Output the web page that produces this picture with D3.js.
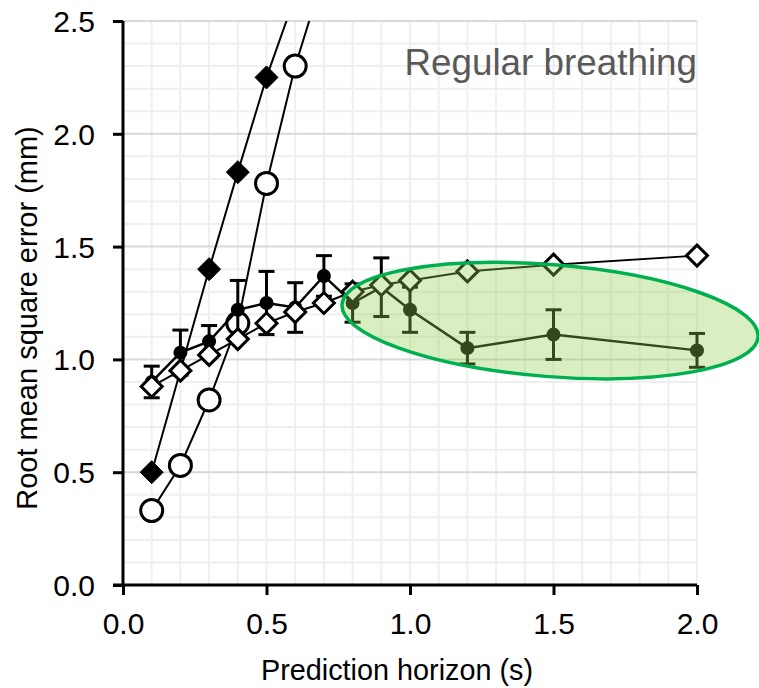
<!DOCTYPE html>
<html>
<head>
<meta charset="utf-8">
<script src="https://cdn.jsdelivr.net/npm/d3@7"></script>
<style>
  html, body { margin: 0; padding: 0; background: #fff; }
  svg { display: block; font-family: "Liberation Sans", Arial, sans-serif; }
</style>
</head>
<body>
<svg id="chart" width="759" height="688"></svg>
<script>
// Prediction horizons (s) for each method
const horizonA = [0.1, 0.2, 0.3, 0.4, 0.5, 0.6, 0.7, 0.8, 0.9, 1.0, 1.2, 1.5, 2.0];
// Mean RMSE with error bars (mm)
const rmseMean = [0.90, 1.03, 1.08, 1.22, 1.25, 1.23, 1.37, 1.25, 1.32, 1.22, 1.05, 1.11, 1.04];
const rmseErr  = [0.07, 0.10, 0.07, 0.13, 0.14, 0.11, 0.09, 0.085, 0.13, 0.10, 0.07, 0.11, 0.075];
// Open diamonds (mm)
const openDiamond = [0.88, 0.95, 1.02, 1.09, 1.16, 1.21, 1.25, 1.30, 1.33, 1.35, 1.39, 1.42, 1.46];
// Filled diamonds
const horizonB = [0.1, 0.3, 0.4, 0.5, 0.6];
const filledDiamond = [0.50, 1.40, 1.83, 2.25, 2.61];
// Open circles
const horizonC = [0.1, 0.2, 0.3, 0.4, 0.5, 0.6, 0.7];
const openCircle = [0.33, 0.53, 0.82, 1.16, 1.78, 2.30, 2.71];

const xTicks = [0.0, 0.5, 1.0, 1.5, 2.0];
const yTicks = [0.0, 0.5, 1.0, 1.5, 2.0, 2.5];
const panelTitle = "Regular breathing";
const xTitle = "Prediction horizon (s)";
const yTitle = "Root mean square error (mm)";

const svg = d3.select("#chart");
const pLeft = 123, pRight = 697, pTop = 21, pBottom = 585;

const x = d3.scaleLinear().domain([0, 2]).range([pLeft, pRight]);
const y = d3.scaleLinear().domain([0, 2.5]).range([pBottom, pTop]);

// grid every 0.1, darker every 0.5 for the horizontal lines
const gridX = d3.range(1, 21).map(i => i / 10);
const gridY = d3.range(1, 26).map(i => i / 10);
const grid = svg.append("g");
grid.selectAll("line.gx").data(gridX).join("line")
  .attr("x1", d => x(d)).attr("x2", d => x(d))
  .attr("y1", y(0)).attr("y2", y(2.5))
  .attr("stroke", "#efefef").attr("stroke-width", 2);
grid.selectAll("line.gy").data(gridY).join("line")
  .attr("x1", x(0)).attr("x2", x(2))
  .attr("y1", d => y(d)).attr("y2", d => y(d))
  .attr("stroke", d => Math.abs(d * 2 - Math.round(d * 2)) < 1e-6 ? "#d9d9d9" : "#efefef")
  .attr("stroke-width", 2);

// panel title
svg.append("text")
  .attr("x", pRight).attr("y", 75)
  .attr("text-anchor", "end")
  .attr("font-size", 36.8).attr("fill", "#595959")
  .text(panelTitle);

// series are cut off above the top of the value axis only
svg.append("clipPath").attr("id", "plotClip")
  .append("rect").attr("x", 0).attr("y", pTop).attr("width", 759).attr("height", 688 - pTop);

const plot = svg.append("g").attr("clip-path", "url(#plotClip)");
const line = d3.line().x(d => x(d[0])).y(d => y(d[1]));
const diamond = (cx, cy, r) => `M${cx},${cy - r}L${cx + r},${cy}L${cx},${cy + r}L${cx - r},${cy}Z`;

// open circles
const circData = horizonC.map((h, i) => [h, openCircle[i]]);
plot.append("path").attr("d", line(circData)).attr("fill", "none").attr("stroke", "#000").attr("stroke-width", 2);
plot.selectAll("circle.oc").data(circData).join("circle")
  .attr("cx", d => x(d[0])).attr("cy", d => y(d[1])).attr("r", 11)
  .attr("fill", "#fff").attr("stroke", "#000").attr("stroke-width", 3);

// filled diamonds
const fdData = horizonB.map((h, i) => [h, filledDiamond[i]]);
plot.append("path").attr("d", line(fdData)).attr("fill", "none").attr("stroke", "#000").attr("stroke-width", 2);
plot.selectAll("path.fd").data(fdData).join("path")
  .attr("d", d => diamond(x(d[0]), y(d[1]), 11.5))
  .attr("fill", "#000").attr("stroke", "#000").attr("stroke-width", 1);

// mean with error bars
const mData = horizonA.map((h, i) => [h, rmseMean[i], rmseErr[i]]);
plot.append("path").attr("d", line(mData)).attr("fill", "none").attr("stroke", "#000").attr("stroke-width", 2.5);
const eb = plot.append("g").attr("stroke", "#000").attr("stroke-width", 3);
eb.selectAll("line.v").data(mData).join("line")
  .attr("x1", d => x(d[0])).attr("x2", d => x(d[0]))
  .attr("y1", d => y(d[1] - d[2])).attr("y2", d => y(d[1] + d[2]));
eb.selectAll("line.t").data(mData).join("line")
  .attr("x1", d => x(d[0]) - 8).attr("x2", d => x(d[0]) + 8)
  .attr("y1", d => y(d[1] + d[2])).attr("y2", d => y(d[1] + d[2]));
eb.selectAll("line.b").data(mData).join("line")
  .attr("x1", d => x(d[0]) - 8).attr("x2", d => x(d[0]) + 8)
  .attr("y1", d => y(d[1] - d[2])).attr("y2", d => y(d[1] - d[2]));
plot.selectAll("circle.m").data(mData).join("circle")
  .attr("cx", d => x(d[0])).attr("cy", d => y(d[1])).attr("r", 7)
  .attr("fill", "#000");

// open diamonds
const odData = horizonA.map((h, i) => [h, openDiamond[i]]);
plot.append("path").attr("d", line(odData)).attr("fill", "none").attr("stroke", "#000").attr("stroke-width", 2);
plot.selectAll("path.od").data(odData).join("path")
  .attr("d", d => diamond(x(d[0]), y(d[1]), 10.5))
  .attr("fill", "#fff").attr("stroke", "#000").attr("stroke-width", 3).attr("stroke-linejoin", "miter");

// highlight ellipse over the long-horizon region
const ell = { cx: 1.488, cy: 1.172, rx: 0.727, ry: 0.248, angle: 4.5 };
const ex = x(ell.cx), ey = y(ell.cy);
svg.append("ellipse")
  .attr("cx", ex).attr("cy", ey)
  .attr("rx", x(ell.cx + ell.rx) - ex).attr("ry", ey - y(ell.cy + ell.ry))
  .attr("transform", `rotate(${ell.angle},${ex},${ey})`)
  .attr("fill", "rgb(146,208,80)").attr("fill-opacity", 0.35)
  .attr("stroke", "#00b050").attr("stroke-width", 3.5);

// axes
const axX = svg.append("g").attr("transform", `translate(0,${pBottom})`)
  .call(d3.axisBottom(x).tickValues(xTicks).tickFormat(d3.format(".1f")).tickSize(10).tickSizeOuter(0).tickPadding(18));
const axY = svg.append("g").attr("transform", `translate(${pLeft},0)`)
  .call(d3.axisLeft(y).tickValues(yTicks).tickFormat(d3.format(".1f")).tickSize(10).tickSizeOuter(0).tickPadding(18));
[axX, axY].forEach(a => {
  a.select(".domain").attr("stroke", "#000").attr("stroke-width", 3);
  a.selectAll(".tick line").attr("stroke", "#000").attr("stroke-width", 3);
  a.selectAll(".tick text").attr("fill", "#000").attr("font-size", 30)
    .attr("font-family", "Liberation Sans, Arial, sans-serif");
});
axX.select(".domain").attr("d", `M${pLeft - 10},0H${pRight}`);
axY.select(".domain").attr("d", `M0,${pTop}V${pBottom + 1.5}`);
axX.selectAll(".tick text").attr("dy", "0.71em");
axY.selectAll(".tick text").attr("dy", "0.35em");

// axis titles
svg.append("text")
  .attr("x", 397).attr("y", 680).attr("text-anchor", "middle")
  .attr("font-size", 28.8).attr("fill", "#000")
  .text(xTitle);
svg.append("text")
  .attr("transform", "translate(37,318) rotate(-90)")
  .attr("text-anchor", "middle")
  .attr("font-size", 29).attr("fill", "#000")
  .text(yTitle);
</script>
</body>
</html>
